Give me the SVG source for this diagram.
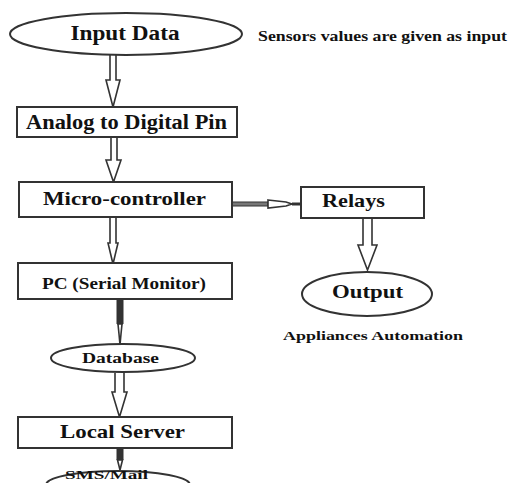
<svg xmlns="http://www.w3.org/2000/svg" width="509" height="483" viewBox="0 0 509 483">
<style>
.s{fill:#fff;stroke:#333;stroke-width:2}
.a{fill:#fff;stroke:#333;stroke-width:1.6;stroke-linejoin:miter}
.d{fill:#333;stroke:#333;stroke-width:1}
text{font-family:"Liberation Serif","Times New Roman",serif;font-weight:bold;fill:#111}
</style>
<rect width="509" height="483" fill="#fff"/>
<g id="connectors">
<path class="a" d="M110,55 V80 H106 L113,107 L120,80 H116 V55"/>
<path class="a" d="M111,137 V160 H106 L113.5,182 L121,160 H117 V137"/>
<path class="a" d="M110,217 V243 H108 L113,264 L118,243 H116 V217"/>
<path class="d" d="M117,299 H123 V324 H117 Z"/>
<path class="a" d="M118,324 H122 L121,334 L120,345 L119,334 Z"/>
<path class="a" d="M115,373 V392 H112 L119.5,417 L127,392 H124 V373"/>
<path class="d" d="M117,448 H123 V460 H117 Z"/>
<path class="a" d="M117.5,460 H122.5 L120,470 Z"/>
<path class="a" d="M363,218 V245 H358 L367.5,270 L377,245 H372 V218"/>
<path d="M232,202 H268 V206 H232 Z" fill="#777" stroke="#333" stroke-width="1.2"/>
<path class="a" d="M268,200 L286,202 L292,204 L286,206 L268,208 Z"/>
<path class="d" d="M292,203 H305 V205 H292 Z"/>
</g>
<g id="input-data">
<ellipse class="s" cx="126" cy="34" rx="116" ry="21"/>
<text x="125" y="40" font-size="20" text-anchor="middle" textLength="109" lengthAdjust="spacingAndGlyphs">Input Data</text>
</g>
<g id="note-sensors">
<text x="258" y="41" font-size="14" textLength="249" lengthAdjust="spacingAndGlyphs">Sensors values are given as input</text>
</g>
<g id="adc">
<rect class="s" x="17" y="107" width="220" height="30"/>
<text x="26" y="129" font-size="20" textLength="201" lengthAdjust="spacingAndGlyphs">Analog to Digital Pin</text>
</g>
<g id="micro">
<rect class="s" x="19" y="182" width="213" height="35"/>
<text x="43" y="205" font-size="19" textLength="163" lengthAdjust="spacingAndGlyphs">Micro-controller</text>
</g>
<g id="relays">
<rect class="s" x="301" y="187" width="123" height="31"/>
<text x="322" y="207" font-size="19" textLength="63" lengthAdjust="spacingAndGlyphs">Relays</text>
</g>
<g id="output">
<ellipse class="s" cx="367" cy="294" rx="65" ry="22"/>
<text x="332" y="298" font-size="19" textLength="71" lengthAdjust="spacingAndGlyphs">Output</text>
</g>
<g id="note-appliances">
<text x="283" y="340" font-size="13" textLength="180" lengthAdjust="spacingAndGlyphs">Appliances Automation</text>
</g>
<g id="pc">
<rect class="s" x="18" y="263" width="214" height="36"/>
<text x="42" y="289" font-size="16" textLength="164" lengthAdjust="spacingAndGlyphs">PC (Serial Monitor)</text>
</g>
<g id="database">
<ellipse class="s" cx="123" cy="358" rx="72" ry="14"/>
<text x="82" y="363" font-size="15" textLength="77" lengthAdjust="spacingAndGlyphs">Database</text>
</g>
<g id="local-server">
<rect class="s" x="18" y="417" width="214" height="31"/>
<text x="60" y="438" font-size="19" textLength="125" lengthAdjust="spacingAndGlyphs">Local Server</text>
</g>
<g id="sms-mail">
<ellipse class="s" cx="118" cy="485" rx="72" ry="14"/>
<text x="65" y="479" font-size="13" textLength="83" lengthAdjust="spacingAndGlyphs">SMS/Mail</text>
</g>
</svg>
